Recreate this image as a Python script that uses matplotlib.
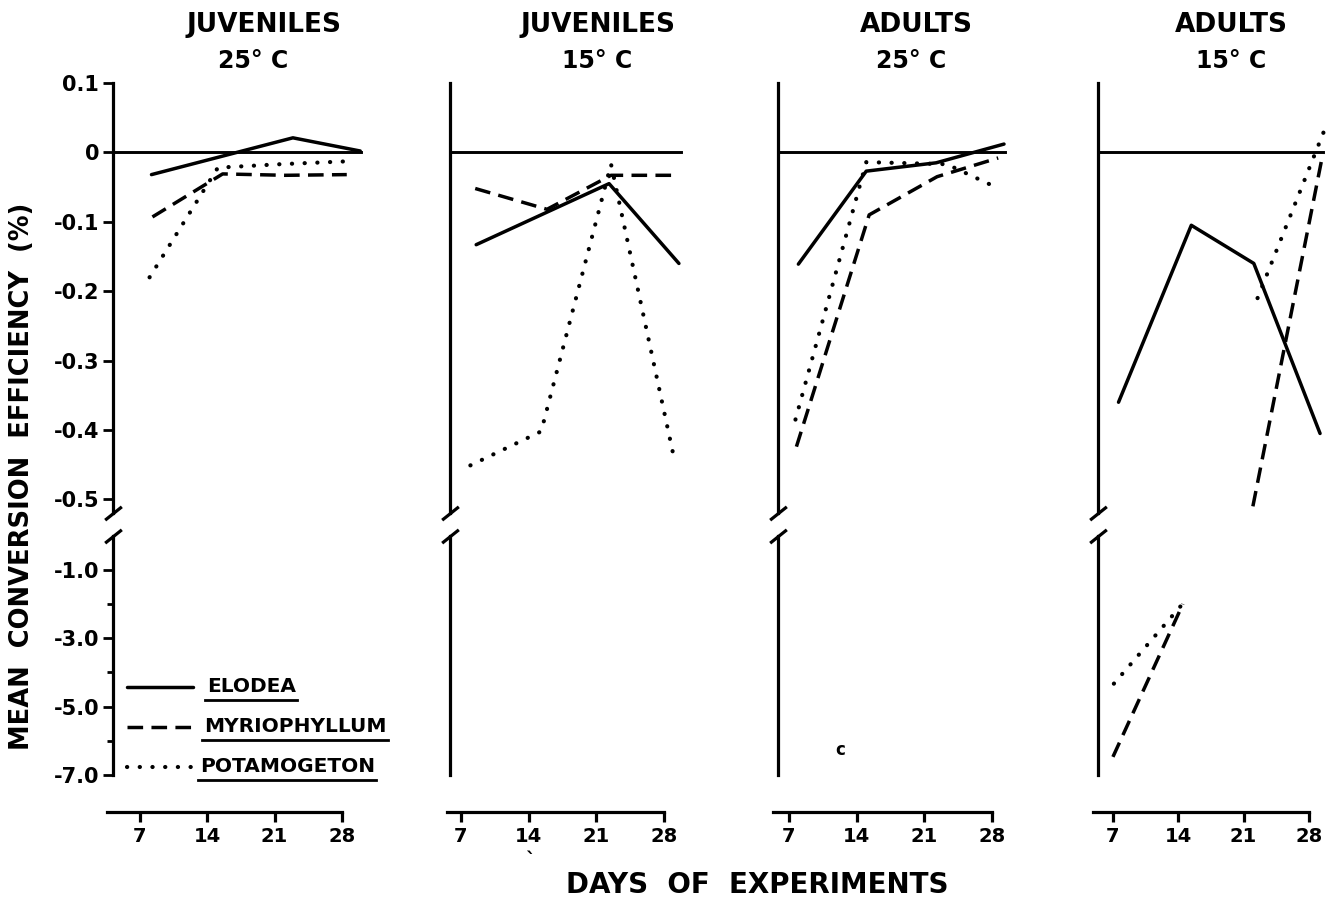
#!/usr/bin/env python3
"""Mean conversion efficiency of four groups fed three macrophytes, broken y axis."""

import matplotlib

matplotlib.use("Agg")
import matplotlib.pyplot as plt
from matplotlib.lines import Line2D
from matplotlib.ticker import FixedLocator, FixedFormatter

W_PX, H_PX = 1330, 905

TITLE_GROUP = ["JUVENILES", "JUVENILES", "ADULTS", "ADULTS"]
TITLE_TEMP = ["25° C", "15° C", "25° C", "15° C"]
SPECIES = ["ELODEA", "MYRIOPHYLLUM", "POTAMOGETON"]

DAY_TICKS = [7, 14, 21, 28]
DAY_TICK_LABELS = ["7", "14", "21", "28"]
UPPER_TICKS = [0.1, 0.0, -0.1, -0.2, -0.3, -0.4, -0.5]
UPPER_TICK_LABELS = ["0.1", "0", "-0.1", "-0.2", "-0.3", "-0.4", "-0.5"]
LOWER_TICKS = [-1.0, -3.0, -5.0, -7.0]
LOWER_TICK_LABELS = ["-1.0", "-3.0", "-5.0", "-7.0"]
LOWER_MINOR_TICKS = [-2.0, -4.0, -6.0]

# upper section (-0.52 .. 0.1 %), one list per panel
ELODEA_DAYS = [[8.2, 22.9, 29.9], [8.6, 22.3, 29.5],
               [8.0, 15.0, 22.2, 29.2], [7.6, 15.4, 22.1, 29.2]]
ELODEA_VALS = [[-0.032, 0.021, 0.002], [-0.133, -0.045, -0.160],
               [-0.161, -0.027, -0.015, 0.012], [-0.360, -0.105, -0.160, -0.405]]
MYRIO_DAYS = [[8.3, 15.6, 22.1, 28.5], [8.5, 15.9, 22.5, 29.5],
              [7.8, 15.3, 22.3, 28.6], [22.0, 29.5]]
MYRIO_VALS = [[-0.093, -0.031, -0.033, -0.032], [-0.052, -0.082, -0.033, -0.033],
              [-0.424, -0.090, -0.035, -0.008], [-0.510, -0.002]]
POTAMO_DAYS = [[8.0, 15.1, 21.6, 28.3], [8.0, 15.3, 22.5, 28.9],
               [7.7, 15.0, 23.3, 28.8], [22.5, 29.9]]
POTAMO_VALS = [[-0.180, -0.022, -0.017, -0.013], [-0.451, -0.402, -0.017, -0.434],
               [-0.385, -0.014, -0.017, -0.053], [-0.210, 0.040]]

# lower section (-7 .. 0 %), adults 15 C only
LOW_MYRIO_DAYS = [7.0, 14.5]
LOW_MYRIO_VALS = [-6.47, -2.00]
LOW_POTAMO_DAYS = [7.1, 14.3]
LOW_POTAMO_VALS = [-4.33, -2.05]

# end of the zero reference line in each panel (days)
ZERO_LINE_END = [30.0, 29.7, 29.3, 29.5]

# layout, in pixels of the reference
PANEL_LEFT_PX = [113, 450, 778, 1098]
PANEL_XLIM = [(4.2, 31.0), (5.9, 31.0), (5.9, 31.0), (5.4, 30.3)]
PX_PER_DAY = [9.62, 9.7, 9.7, 9.33]
XAXIS_START = [3.6, 5.6, 5.4, 4.9]
UPPER_YLIM = (-0.52, 0.1)
LOWER_YLIM = (-7.0, 0.0)
UPPER_TOP_PX = 83
UPPER_PX_PER_UNIT = 694
LOWER_BOTTOM_PX = 775
LOWER_PX_PER_UNIT = 34.2
TITLE_X1 = [264, 598, 916, 1231]
TITLE_X2 = [253, 597, 911, 1231]

SOLID = dict(color="black", linewidth=2.5, solid_capstyle="round", solid_joinstyle="round")
DASHED = dict(color="black", linewidth=2.5, linestyle=(0, (4.5, 2.4)), dash_capstyle="butt")
DOTTED = dict(color="black", linewidth=3.0, linestyle=(0, (0.05, 3.0)), dash_capstyle="round")


def fx(px):
    return px / W_PX


def fy(py):
    return 1 - py / H_PX


def break_mark(ax, y):
    ax.plot([0], [y], transform=ax.transAxes, marker=[(-1, -0.8), (1, 0.8)],
            markersize=12, markeredgewidth=2.3, color="black", linestyle="none",
            clip_on=False)


def build_panel(fig, i):
    x0, x1 = PANEL_XLIM[i]
    left = PANEL_LEFT_PX[i]
    width = (x1 - x0) * PX_PER_DAY[i]

    up_bottom = UPPER_TOP_PX + (UPPER_YLIM[1] - UPPER_YLIM[0]) * UPPER_PX_PER_UNIT
    low_top = LOWER_BOTTOM_PX - (LOWER_YLIM[1] - LOWER_YLIM[0]) * LOWER_PX_PER_UNIT

    ax_up = fig.add_axes([fx(left), fy(up_bottom), fx(width), (up_bottom - UPPER_TOP_PX) / H_PX])
    ax_lo = fig.add_axes([fx(left), fy(LOWER_BOTTOM_PX), fx(width), (LOWER_BOTTOM_PX - low_top) / H_PX])

    for ax in (ax_up, ax_lo):
        ax.set_xlim(x0, x1)
        ax.patch.set_visible(False)
        ax.spines["top"].set_visible(False)
        ax.spines["right"].set_visible(False)
        ax.spines["left"].set_linewidth(2.3)
    ax_up.set_ylim(*UPPER_YLIM)
    ax_lo.set_ylim(*LOWER_YLIM)

    ax_up.spines["bottom"].set_visible(False)
    ax_up.tick_params(bottom=False, labelbottom=False)

    # x axis drawn detached below the lower section
    sp = ax_lo.spines["bottom"]
    sp.set_position(("outward", 26.6))
    sp.set_bounds(XAXIS_START[i], DAY_TICKS[-1])
    sp.set_linewidth(2.3)
    ax_lo.xaxis.set_major_locator(FixedLocator(DAY_TICKS))
    ax_lo.xaxis.set_major_formatter(FixedFormatter(DAY_TICK_LABELS))
    ax_lo.tick_params(axis="x", direction="out", length=7, width=2.3, pad=4, labelsize=14)

    if i == 0:
        ax_up.yaxis.set_major_locator(FixedLocator(UPPER_TICKS))
        ax_up.yaxis.set_major_formatter(FixedFormatter(UPPER_TICK_LABELS))
        ax_up.tick_params(axis="y", direction="out", length=7, width=2.0, pad=3, labelsize=15)
        ax_lo.yaxis.set_major_locator(FixedLocator(LOWER_TICKS))
        ax_lo.yaxis.set_major_formatter(FixedFormatter(LOWER_TICK_LABELS))
        ax_lo.yaxis.set_minor_locator(FixedLocator(LOWER_MINOR_TICKS))
        ax_lo.tick_params(axis="y", which="major", direction="out", length=7, width=2.0,
                          pad=3, labelsize=15)
        ax_lo.tick_params(axis="y", which="minor", direction="out", length=4, width=2.0)
    else:
        ax_up.tick_params(axis="y", left=False, labelleft=False)
        ax_lo.tick_params(axis="y", which="both", left=False, labelleft=False)

    ax_up.axhline(0, xmin=0, xmax=(ZERO_LINE_END[i] - x0) / (x1 - x0), color="black",
                  linewidth=2.1)

    ax_up.plot(ELODEA_DAYS[i], ELODEA_VALS[i], **SOLID)
    ax_up.plot(MYRIO_DAYS[i], MYRIO_VALS[i], **DASHED)
    ax_up.plot(POTAMO_DAYS[i], POTAMO_VALS[i], **DOTTED)
    if i == 3:
        ax_lo.plot(LOW_MYRIO_DAYS, LOW_MYRIO_VALS, **DASHED)
        ax_lo.plot(LOW_POTAMO_DAYS, LOW_POTAMO_VALS, **DOTTED)

    break_mark(ax_up, 0.0)
    break_mark(ax_lo, 1.0)

    fig.text(fx(TITLE_X1[i]), fy(25), TITLE_GROUP[i], ha="center", va="center", fontsize=19)
    fig.text(fx(TITLE_X2[i]), fy(61), TITLE_TEMP[i], ha="center", va="center", fontsize=17)


def add_legend(fig):
    line_y = [687, 727, 767]
    text_x = [207, 204, 200]
    styles = [SOLID, DASHED, DOTTED]
    texts = []
    for label, y, tx, st in zip(SPECIES, line_y, text_x, styles):
        fig.add_artist(Line2D([fx(127), fx(193)], [fy(y), fy(y)], transform=fig.transFigure, **st))
        texts.append(fig.text(fx(tx), fy(y - 1), label, ha="left", va="center", fontsize=14.5))
    fig.canvas.draw()
    inv = fig.transFigure.inverted()
    for t in texts:
        bb = t.get_window_extent().transformed(inv)
        y = bb.y0 - 4 / H_PX
        fig.add_artist(Line2D([bb.x0 - 2 / W_PX, bb.x1 + 1 / W_PX], [y, y],
                              transform=fig.transFigure, color="black", linewidth=2.0))


def main():
    plt.rcParams.update({
        "font.family": "DejaVu Sans",
        "font.weight": "bold",
        "axes.labelweight": "bold",
    })
    fig = plt.figure(figsize=(W_PX / 100, H_PX / 100), dpi=100)
    fig.patch.set_facecolor("white")

    for i in range(4):
        build_panel(fig, i)

    fig.text(fx(22), fy(476), "MEAN  CONVERSION  EFFICIENCY  (%)", rotation=90,
             ha="center", va="center", fontsize=18.5)
    fig.text(fx(757), fy(885), "DAYS  OF  EXPERIMENTS", ha="center", va="center", fontsize=20)
    # stray marks on the scanned original
    fig.text(fx(530), fy(860), "`", ha="center", va="center", fontsize=14)
    fig.text(fx(840), fy(750), "c", ha="center", va="center", fontsize=12)

    add_legend(fig)
    fig.savefig("out.png", dpi=100, facecolor="white")
    plt.close(fig)


if __name__ == "__main__":
    main()
